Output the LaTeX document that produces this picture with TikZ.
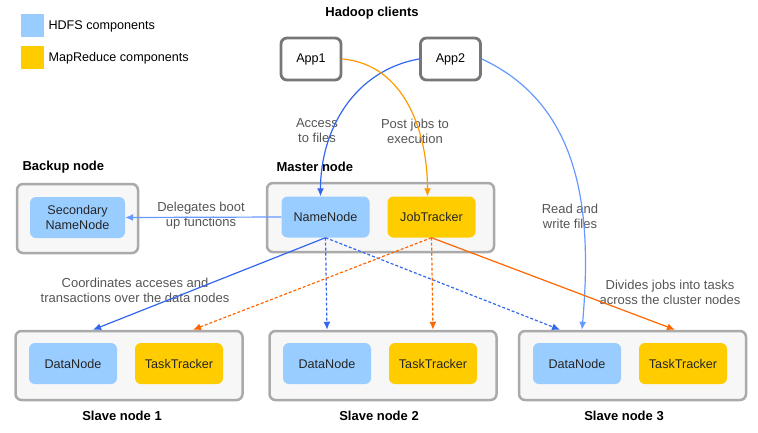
\documentclass[tikz,border=0pt]{standalone}
\usepackage{fontspec}
\setmainfont{Liberation Sans}
\usetikzlibrary{arrows.meta}

\definecolor{hdfs}{HTML}{99CCFF}
\definecolor{mapred}{HTML}{FFCC00}
\definecolor{boxgray}{HTML}{AAAAAA}
\definecolor{boxfill}{HTML}{F7F7F7}
\definecolor{appgray}{HTML}{777777}
\definecolor{lblgray}{HTML}{555555}
\definecolor{hblue}{HTML}{3366EE}
\definecolor{rblue}{HTML}{6699FF}
\definecolor{jorange}{HTML}{FF6600}
\definecolor{aorange}{HTML}{FF9900}

\tikzset{
  machine/.style={draw=boxgray, fill=boxfill, line width=2.5pt, rounded corners=6pt,
    minimum width=227pt, minimum height=69pt},
  appbox/.style={draw=appgray, fill=white, line width=2.8pt, rounded corners=6pt,
    minimum width=60pt, minimum height=42pt, font=\fontsize{12.6}{14}\selectfont},
  comp/.style={rounded corners=6pt, minimum width=88pt, minimum height=41pt,
    font=\fontsize{12.6}{15}\selectfont, text=black!85, align=center},
  hdfsbox/.style={comp, fill=hdfs},
  mrbox/.style={comp, fill=mapred},
  legbox/.style={minimum size=23pt, inner sep=0pt},
  title/.style={font=\bfseries\fontsize{13}{15}\selectfont},
  lbl/.style={text=lblgray, align=center, font=\fontsize{13}{15}\selectfont},
  arr/.style={-{Latex[length=8pt,width=7pt]}, line width=1.2pt},
  dsh/.style={arr, dash pattern=on 3pt off 2pt},
}

\begin{document}
\begin{tikzpicture}[x=1pt,y=1pt]
\useasboundingbox (0,0) rectangle (758,-432);

% legend
\node[legbox, fill=hdfs] (leg1) at (32.5,-25.5) {};
\node[anchor=west, font=\fontsize{12.6}{14}\selectfont] (leg1t) at (45,-26) {HDFS components};
\node[legbox, fill=mapred] (leg2) at (32.5,-57.5) {};
\node[anchor=west, font=\fontsize{12.6}{14}\selectfont] (leg2t) at (45,-58) {MapReduce components};

% clients
\node[title] (clients) at (372,-13) {Hadoop clients};
\node[appbox] (app1) at (311,-59) {App1};
\node[appbox] (app2) at (450.5,-59) {App2};

% backup node
\node[title, anchor=west] (bktitle) at (19,-167) {Backup node};
\node[machine, minimum width=121pt] (bk) at (77.5,-218.5) {};
\node[hdfsbox, minimum width=95pt] (snn) at (77.5,-217.5) {Secondary\\NameNode};

% master node
\node[title, anchor=west] (mtitle) at (273,-167) {Master node};
\node[machine] (master) at (380.5,-217.5) {};
\node[hdfsbox] (nn) at (325.5,-217) {NameNode};
\node[mrbox] (jt) at (431.5,-217) {JobTracker};

% slave nodes
\node[machine] (s1) at (129,-365.5) {};
\node[hdfsbox] (dn1) at (73,-363.5) {DataNode};
\node[mrbox] (tt1) at (179,-363.5) {TaskTracker};
\node[title] (s1title) at (122,-416) {Slave node 1};

\node[machine] (s2) at (383,-365.5) {};
\node[hdfsbox] (dn2) at (327,-363.5) {DataNode};
\node[mrbox] (tt2) at (433,-363.5) {TaskTracker};
\node[title] (s2title) at (379,-416) {Slave node 2};

\node[machine] (s3) at (632.5,-365.5) {};
\node[hdfsbox] (dn3) at (577,-363.5) {DataNode};
\node[mrbox] (tt3) at (683,-363.5) {TaskTracker};
\node[title] (s3title) at (624,-416) {Slave node 3};

% labels
\node[lbl] (l1) at (201,-216) {Delegates boot\\up functions};
\node[lbl] (l2) at (317,-131) {Access\\to files};
\node[lbl] (l3) at (415,-131) {Post jobs to\\execution};
\node[lbl] (l4) at (570,-216) {Read and\\write files};
\node[lbl] (l5) at (135,-290) {Coordinates acceses and\\transactions over the data nodes};
\node[lbl] (l6) at (670,-292) {Divides jobs into tasks\\across the cluster nodes};

% connectors
\draw[arr, rblue] (nn.west) -- (snn.east);
\draw[arr, hblue] (app2.west) to[out=190,in=90] ([xshift=-5pt]nn.north);
\draw[arr, aorange] (app1.east) to[out=-5,in=90] ([xshift=-4pt]jt.north);
\draw[arr, rblue] (app2.east) to[out=-25,in=85] ([xshift=5pt]dn3.north |- s3.north);

\draw[arr, hblue] (nn.south) -- ([xshift=20pt]dn1.north |- s1.north);
\draw[dsh, hblue] (nn.south) -- (dn2.north |- s2.north);
\draw[dsh, hblue] (nn.south) -- ([xshift=-17pt]dn3.north |- s3.north);

\draw[dsh, jorange] (jt.south) -- ([xshift=14pt]tt1.north |- s1.north);
\draw[dsh, jorange] (jt.south) -- (tt2.north |- s2.north);
\draw[arr, jorange] (jt.south) -- ([xshift=-8pt]tt3.north |- s3.north);

\end{tikzpicture}
\end{document}
